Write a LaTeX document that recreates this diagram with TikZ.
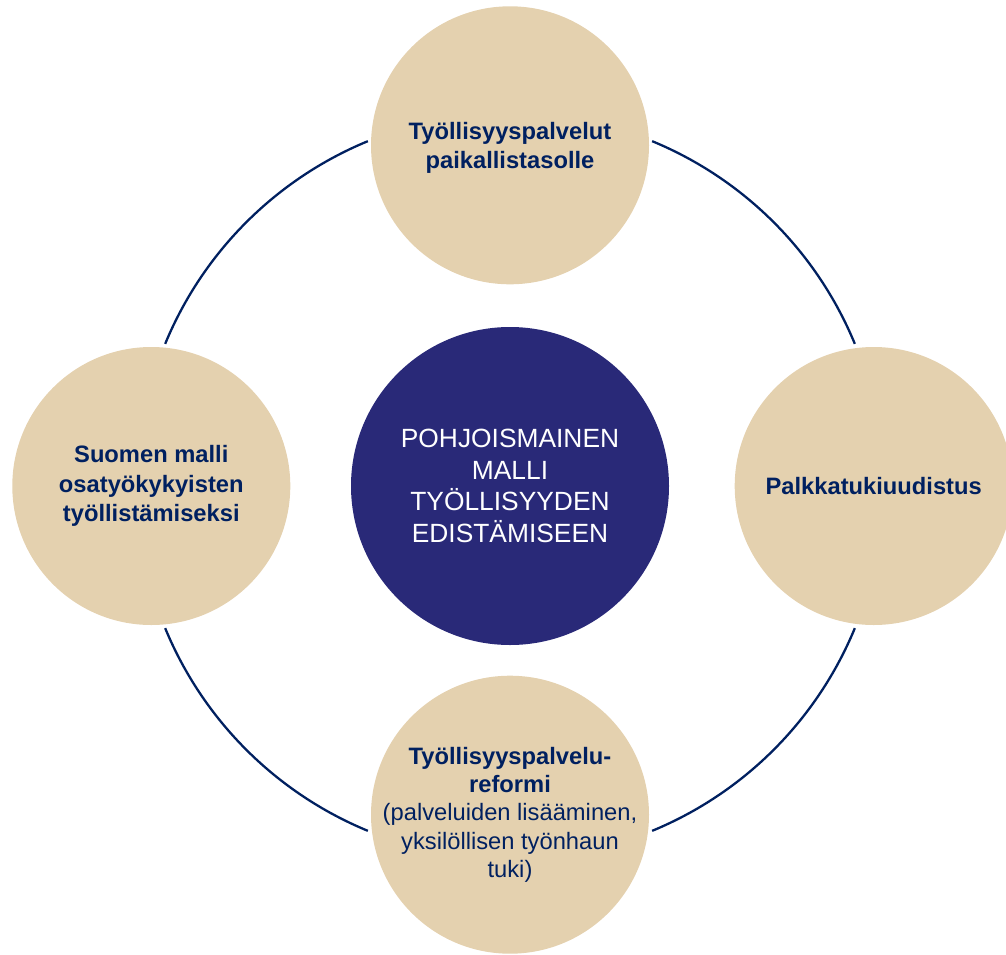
\documentclass[tikz,border=0pt]{standalone}
\usepackage{fontspec}
\setmainfont{Liberation Sans}
\usepackage{xcolor}
\usetikzlibrary{positioning}

\definecolor{sand}{RGB}{228,209,175}
\definecolor{hubblue}{RGB}{41,41,120}
\definecolor{navy}{RGB}{0,32,96}

\begin{document}
\begin{tikzpicture}[
    hub/.style={circle, fill=hubblue, minimum size=6.36cm, inner sep=0pt, text=white, align=center, font=\fontsize{15}{18}\selectfont},
    pillar/.style={circle, fill=sand, minimum size=5.56cm, inner sep=0pt},
    caption/.style={text=navy, align=center, font=\fontsize{13.5}{16.6}\selectfont\bfseries},
    ring/.style={navy, line width=1.3pt},
]
    \useasboundingbox (0,0) rectangle (20.12,-19.08);
    \clip (0,0) rectangle (20.12,-19.08);

    % Centre circle
    \node[hub] (hub) at (10.2,-9.72) {POHJOISMAINEN\\MALLI\\TYÖLLISYYDEN\\EDISTÄMISEEN};

    % Four pillars round it
    \node[pillar, above=0.84cm of hub] (top) {};
    \node[pillar, left=1.2cm of hub] (left) {};
    \node[pillar, right=1.3cm of hub] (right) {};
    \node[pillar, below=0.6cm of hub] (bottom) {};

    % Pillar texts
    \node[caption] (top-text) at ([yshift=-0.05cm]top) {Työllisyyspalvelut\\paikallistasolle};
    \node[caption] (left-text) at (left) {Suomen malli\\osatyökykyisten\\työllistämiseksi};
    \node[caption] (right-text) at (right) {Palkkatukiuudistus};
    \node[caption, font=\fontsize{13.5}{16.1}\selectfont] (bottom-text) at (bottom)
        {\textbf{Työllisyyspalvelu-}\\\textbf{reformi}\\(palveluiden lisääminen,\\yksilöllisen työnhaun\\tuki)};

    % Ring between the pillars
    \draw[ring] ([shift={(22.4:7.46)}]hub.center) arc[start angle=22.4, end angle=67.6, radius=7.46];
    \draw[ring] ([shift={(112.4:7.46)}]hub.center) arc[start angle=112.4, end angle=157.6, radius=7.46];
    \draw[ring] ([shift={(202.4:7.46)}]hub.center) arc[start angle=202.4, end angle=247.6, radius=7.46];
    \draw[ring] ([shift={(292.4:7.46)}]hub.center) arc[start angle=292.4, end angle=337.6, radius=7.46];
\end{tikzpicture}
\end{document}
